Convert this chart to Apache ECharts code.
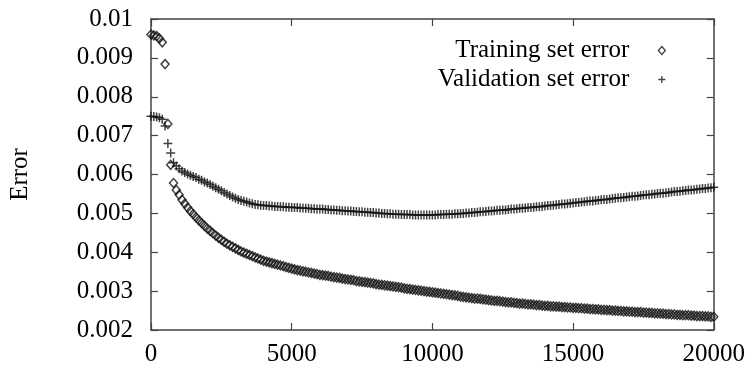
<!DOCTYPE html>
<html>
<head>
<meta charset="utf-8">
<script src="https://cdn.jsdelivr.net/npm/echarts@6/dist/echarts.min.js"></script>
<style>
html,body{margin:0;padding:0;background:#fff;}
#chart{width:748px;height:370px;}
</style>
</head>
<body>
<div id="chart"></div>
<script>
var iterations = [
0,100,200,300,400,500,600,700,800,900,1000,1100,1200,1300,1400,1500,1600,1700,1800,1900,
2000,2100,2200,2300,2400,2500,2600,2700,2800,2900,3000,3100,3200,3300,3400,3500,3600,3700,3800,3900,
4000,4100,4200,4300,4400,4500,4600,4700,4800,4900,5000,5100,5200,5300,5400,5500,5600,5700,5800,5900,
6000,6100,6200,6300,6400,6500,6600,6700,6800,6900,7000,7100,7200,7300,7400,7500,7600,7700,7800,7900,
8000,8100,8200,8300,8400,8500,8600,8700,8800,8900,9000,9100,9200,9300,9400,9500,9600,9700,9800,9900,
10000,10100,10200,10300,10400,10500,10600,10700,10800,10900,11000,11100,11200,11300,11400,11500,11600,11700,11800,11900,
12000,12100,12200,12300,12400,12500,12600,12700,12800,12900,13000,13100,13200,13300,13400,13500,13600,13700,13800,13900,
14000,14100,14200,14300,14400,14500,14600,14700,14800,14900,15000,15100,15200,15300,15400,15500,15600,15700,15800,15900,
16000,16100,16200,16300,16400,16500,16600,16700,16800,16900,17000,17100,17200,17300,17400,17500,17600,17700,17800,17900,
18000,18100,18200,18300,18400,18500,18600,18700,18800,18900,19000,19100,19200,19300,19400,19500,19600,19700,19800,19900,
20000];

var trainingError = [
0.00960,0.00958,0.00956,0.00950,0.00940,0.00884,0.00730,0.00625,0.00578,0.00560,
0.00548,0.00535,0.00525,0.00515,0.00506,0.00498,0.00490,0.00482,0.00475,0.00468,
0.00461,0.00455,0.00449,0.00443,0.00437,0.00432,0.00427,0.00422,0.00418,0.00414,
0.00410,0.00406,0.00402,0.00399,0.00396,0.00393,0.00390,0.00387,0.00384,0.00381,
0.00378,0.00376,0.00374,0.00372,0.00370,0.00368,0.00366,0.00364,0.00362,0.00360,
0.00358,0.00356,0.00354,0.00353,0.00351,0.00350,0.00348,0.00347,0.00345,0.00344,
0.00342,0.00341,0.00340,0.00339,0.00337,0.00336,0.00335,0.00334,0.00332,0.00331,
0.00330,0.00329,0.00328,0.00326,0.00325,0.00324,0.00323,0.00322,0.00321,0.00320,
0.00318,0.00317,0.00316,0.00315,0.00314,0.00313,0.00312,0.00311,0.00310,0.00309,
0.00307,0.00306,0.00305,0.00304,0.00303,0.00302,0.00301,0.00300,0.00299,0.00298,
0.00297,0.00296,0.00295,0.00294,0.00293,0.00292,0.00291,0.00290,0.00289,0.00288,
0.00286,0.00285,0.00284,0.00283,0.00282,0.00281,0.00281,0.00280,0.00279,0.00278,
0.00277,0.00276,0.00275,0.00275,0.00274,0.00273,0.00272,0.00271,0.00271,0.00270,
0.00269,0.00268,0.00268,0.00267,0.00266,0.00266,0.00265,0.00264,0.00264,0.00263,
0.00262,0.00262,0.00261,0.00261,0.00260,0.00260,0.00259,0.00259,0.00258,0.00258,
0.00257,0.00257,0.00256,0.00256,0.00255,0.00255,0.00254,0.00254,0.00253,0.00253,
0.00252,0.00252,0.00251,0.00251,0.00250,0.00250,0.00249,0.00249,0.00248,0.00248,
0.00247,0.00247,0.00246,0.00246,0.00246,0.00245,0.00245,0.00244,0.00244,0.00243,
0.00243,0.00242,0.00242,0.00241,0.00241,0.00240,0.00240,0.00239,0.00239,0.00238,
0.00238,0.00238,0.00237,0.00237,0.00236,0.00236,0.00236,0.00235,0.00235,0.00234,
0.00234];

var validationError = [
0.00750,0.00749,0.00748,0.00746,0.00742,0.00725,0.00680,0.00655,0.00630,0.00622,
0.00615,0.00609,0.00605,0.00601,0.00598,0.00595,0.00592,0.00588,0.00585,0.00581,
0.00578,0.00574,0.00570,0.00566,0.00562,0.00558,0.00554,0.00550,0.00546,0.00542,
0.00539,0.00536,0.00533,0.00531,0.00529,0.00527,0.00525,0.00523,0.00522,0.00521,
0.00520,0.00520,0.00519,0.00519,0.00518,0.00518,0.00517,0.00517,0.00516,0.00516,
0.00515,0.00515,0.00515,0.00514,0.00514,0.00513,0.00513,0.00512,0.00512,0.00511,
0.00511,0.00511,0.00510,0.00510,0.00509,0.00509,0.00508,0.00508,0.00507,0.00507,
0.00506,0.00506,0.00505,0.00505,0.00504,0.00504,0.00503,0.00503,0.00502,0.00502,
0.00501,0.00501,0.00500,0.00500,0.00499,0.00499,0.00498,0.00498,0.00498,0.00497,
0.00497,0.00497,0.00497,0.00496,0.00496,0.00496,0.00496,0.00496,0.00496,0.00496,
0.00496,0.00496,0.00497,0.00497,0.00497,0.00498,0.00498,0.00498,0.00499,0.00499,
0.00500,0.00500,0.00501,0.00501,0.00502,0.00502,0.00503,0.00504,0.00504,0.00505,
0.00506,0.00506,0.00507,0.00508,0.00508,0.00509,0.00509,0.00510,0.00511,0.00511,
0.00512,0.00513,0.00513,0.00514,0.00515,0.00515,0.00516,0.00517,0.00517,0.00518,
0.00519,0.00520,0.00520,0.00521,0.00522,0.00523,0.00524,0.00524,0.00525,0.00526,
0.00527,0.00528,0.00528,0.00529,0.00530,0.00531,0.00532,0.00532,0.00533,0.00534,
0.00535,0.00536,0.00536,0.00537,0.00538,0.00539,0.00540,0.00540,0.00541,0.00542,
0.00543,0.00544,0.00544,0.00545,0.00546,0.00547,0.00548,0.00548,0.00549,0.00550,
0.00551,0.00552,0.00552,0.00553,0.00554,0.00555,0.00556,0.00556,0.00557,0.00558,
0.00559,0.00560,0.00560,0.00561,0.00562,0.00563,0.00564,0.00564,0.00565,0.00566,
0.00567];

var seriesNames = ['Training set error', 'Validation set error'];
var yAxisName = 'Error';

var FONT = '"Liberation Serif", "Times New Roman", serif';
var FS = 25;
var TXT = '#000';
var AX = '#444';

var chart = echarts.init(document.getElementById('chart'), null, {renderer: 'canvas'});

function pairs(ys) { return iterations.map(function (x, i) { return [x, ys[i]]; }); }

var plusPath = 'path://M0,4L8,4M4,0L4,8';

var axisCommon = {
  axisLine: {show: true, onZero: false, lineStyle: {color: AX, width: 1.5}},
  axisTick: {show: true, inside: true, length: 7, lineStyle: {color: AX, width: 1.2}},
  splitLine: {show: false}
};

var option = {
  animation: false,
  backgroundColor: '#fff',
  grid: {left: 148, right: 34, top: 19, bottom: 40, containLabel: false},
  legend: [
    {
      data: [seriesNames[0]], right: 77, top: 33, align: 'right', orient: 'vertical',
      itemWidth: 7, itemHeight: 8, icon: 'diamond',
      itemStyle: {color: 'rgba(0,0,0,0)', borderColor: '#111', borderWidth: 1.3},
      textStyle: {fontFamily: FONT, fontSize: FS, color: TXT, padding: [0, 24, 0, 0]},
      selectedMode: false
    },
    {
      data: [seriesNames[1]], right: 77, top: 62, align: 'right', orient: 'vertical',
      itemWidth: 7, itemHeight: 7, icon: plusPath,
      itemStyle: {color: 'rgba(0,0,0,0)', borderColor: '#111', borderWidth: 1.3},
      textStyle: {fontFamily: FONT, fontSize: FS, color: TXT, padding: [0, 24, 0, 0]},
      selectedMode: false
    }
  ],
  xAxis: [
    Object.assign({}, axisCommon, {
      type: 'value', position: 'bottom', min: 0, max: 20000, interval: 5000,
      axisLabel: {fontFamily: FONT, fontSize: FS, color: TXT, margin: 12,
        formatter: function (v) { return String(v); }}
    }),
    Object.assign({}, axisCommon, {
      type: 'value', position: 'top', min: 0, max: 20000, interval: 5000,
      axisLabel: {show: false}
    })
  ],
  yAxis: [
    Object.assign({}, axisCommon, {
      type: 'value', position: 'left', min: 0.002, max: 0.01, interval: 0.001,
      name: yAxisName, nameLocation: 'middle', nameRotate: 90, nameGap: 118,
      nameTextStyle: {fontFamily: FONT, fontSize: FS, color: TXT},
      axisLabel: {fontFamily: FONT, fontSize: FS, color: TXT, margin: 18,
        formatter: function (v) { return String(+v.toFixed(3)); }}
    }),
    Object.assign({}, axisCommon, {
      type: 'value', position: 'right', min: 0.002, max: 0.01, interval: 0.001,
      axisLabel: {show: false}
    })
  ],
  series: [
    {
      name: seriesNames[0], type: 'scatter', xAxisIndex: 0, yAxisIndex: 0,
      symbol: 'diamond', symbolSize: [8, 9],
      itemStyle: {color: 'rgba(0,0,0,0)', borderColor: '#111', borderWidth: 1.5},
      data: pairs(trainingError)
    },
    {
      name: seriesNames[1], type: 'scatter', xAxisIndex: 0, yAxisIndex: 0,
      symbol: plusPath, symbolSize: 9,
      itemStyle: {color: 'rgba(0,0,0,0)', borderColor: '#111', borderWidth: 1.5},
      data: pairs(validationError)
    }
  ]
};
chart.setOption(option);
</script>
</body>
</html>
